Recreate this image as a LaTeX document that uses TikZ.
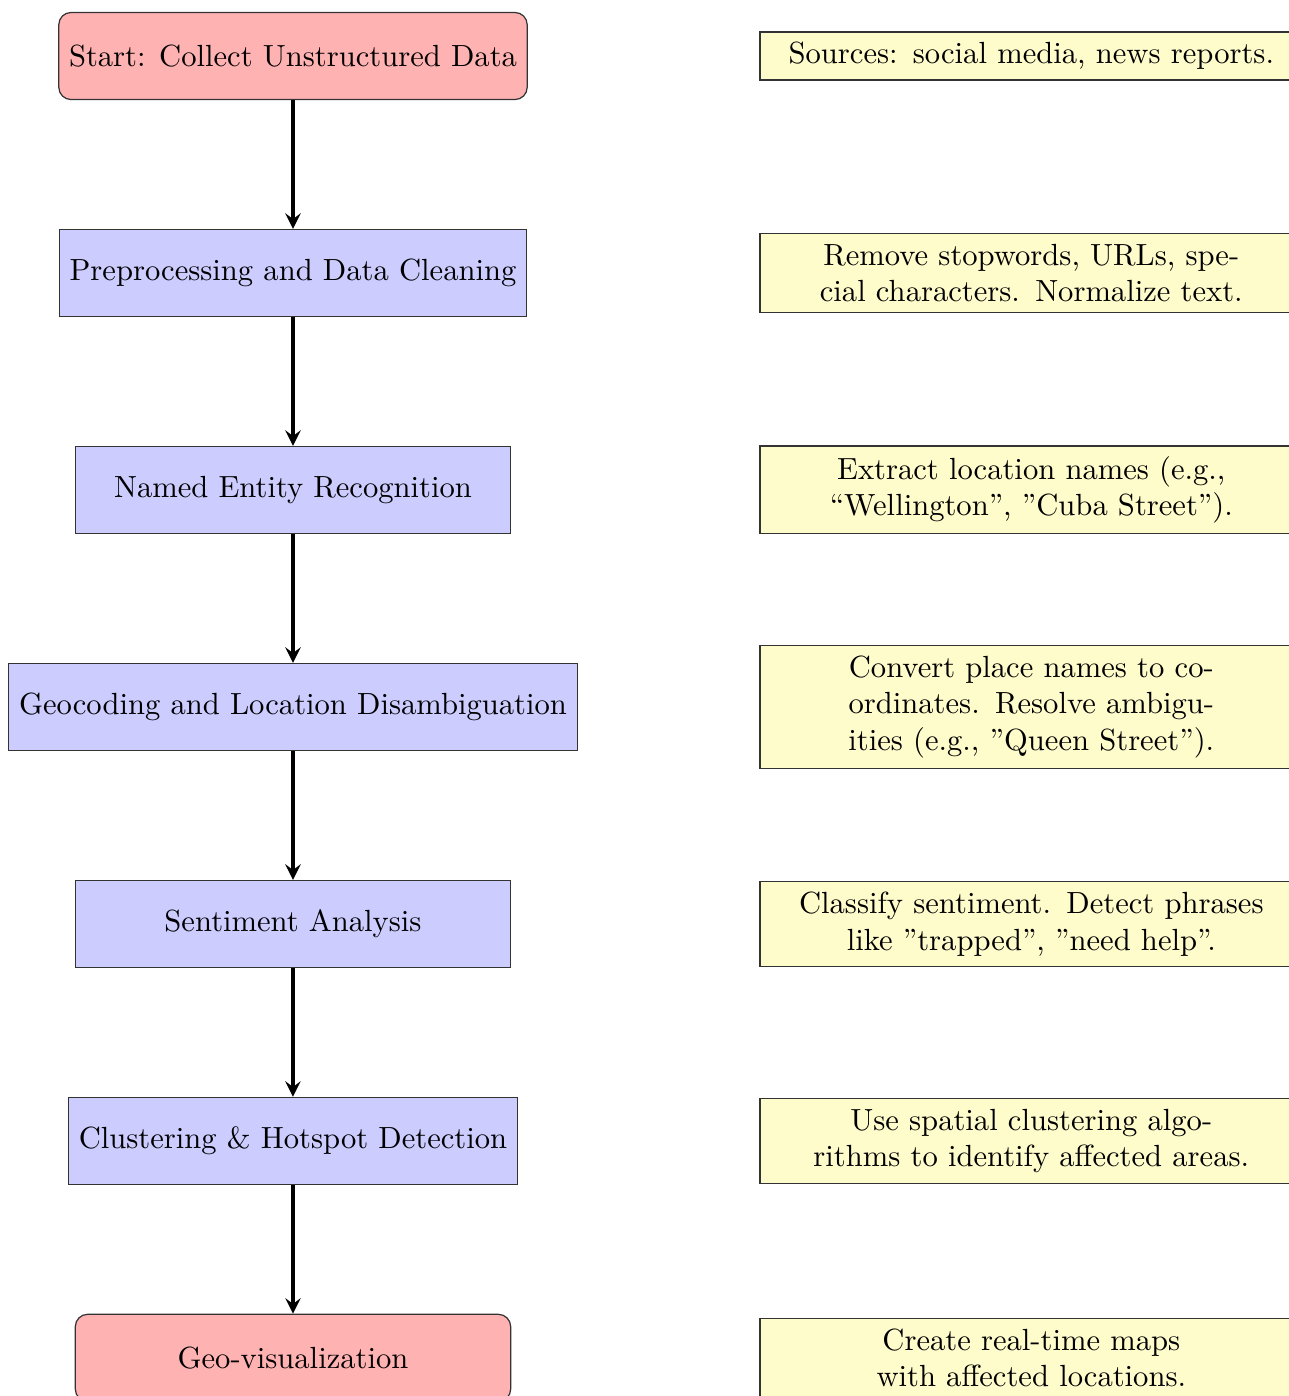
\documentclass[tikz,border=0pt]{standalone}
\usetikzlibrary{positioning}

\tikzset{
  startstop/.style={rectangle, rounded corners, minimum width=5cm, minimum height=1cm, draw=black!80, fill=red!30},
  process/.style={rectangle, minimum width=5cm, minimum height=1cm, draw=black!80, fill=blue!20},
  note/.style={rectangle, draw=black!80, fill=yellow!20, text width=6cm, align=center},
  arrow/.style={very thick,->,>=stealth}
}

\begin{document}
\begin{tikzpicture}[node distance=1.478cm]
    \useasboundingbox (-95.75pt,18.3pt) rectangle (325.2pt,-437.9pt);

    % main steps
    \node (start) [startstop] {Start: Collect Unstructured Data};
    \node (prep) [process, below=of start] {Preprocessing and Data Cleaning};
    \node (ner) [process, below=of prep] {Named Entity Recognition};
    \node (geo) [process, below=of ner] {Geocoding and Location Disambiguation};
    \node (senti) [process, below=of geo] {Sentiment Analysis};
    \node (clust) [process, below=of senti] {Clustering \& Hotspot Detection};
    \node (vis) [startstop, below=of clust] {Geo-visualization};

    % notes on the right
    \node (nstart) [note] at ([xshift=8.48cm]start) {Sources: social media, news reports.};
    \node (nprep) [note] at ([xshift=8.48cm]prep) {Remove stopwords, URLs, spe-\\cial characters. Normalize text.};
    \node (nner) [note] at ([xshift=8.48cm]ner) {Extract location names (e.g.,\\``Wellington'', ''Cuba Street'').};
    \node (ngeo) [note] at ([xshift=8.48cm]geo) {Convert place names to co-\\ordinates. Resolve ambigu-\\ities (e.g., ''Queen Street'').};
    \node (nsenti) [note] at ([xshift=8.48cm]senti) {Classify sentiment. Detect phrases\\like ''trapped'', ''need help''.};
    \node (nclust) [note] at ([xshift=8.48cm]clust) {Use spatial clustering algo-\\rithms to identify affected areas.};
    \node (nvis) [note] at ([xshift=8.48cm]vis) {Create real-time maps\\with affected locations.};

    % arrows
    \foreach \a/\b in {start/prep, prep/ner, ner/geo, geo/senti, senti/clust, clust/vis}
        \draw[arrow] (\a) -- (\b);
\end{tikzpicture}
\end{document}
